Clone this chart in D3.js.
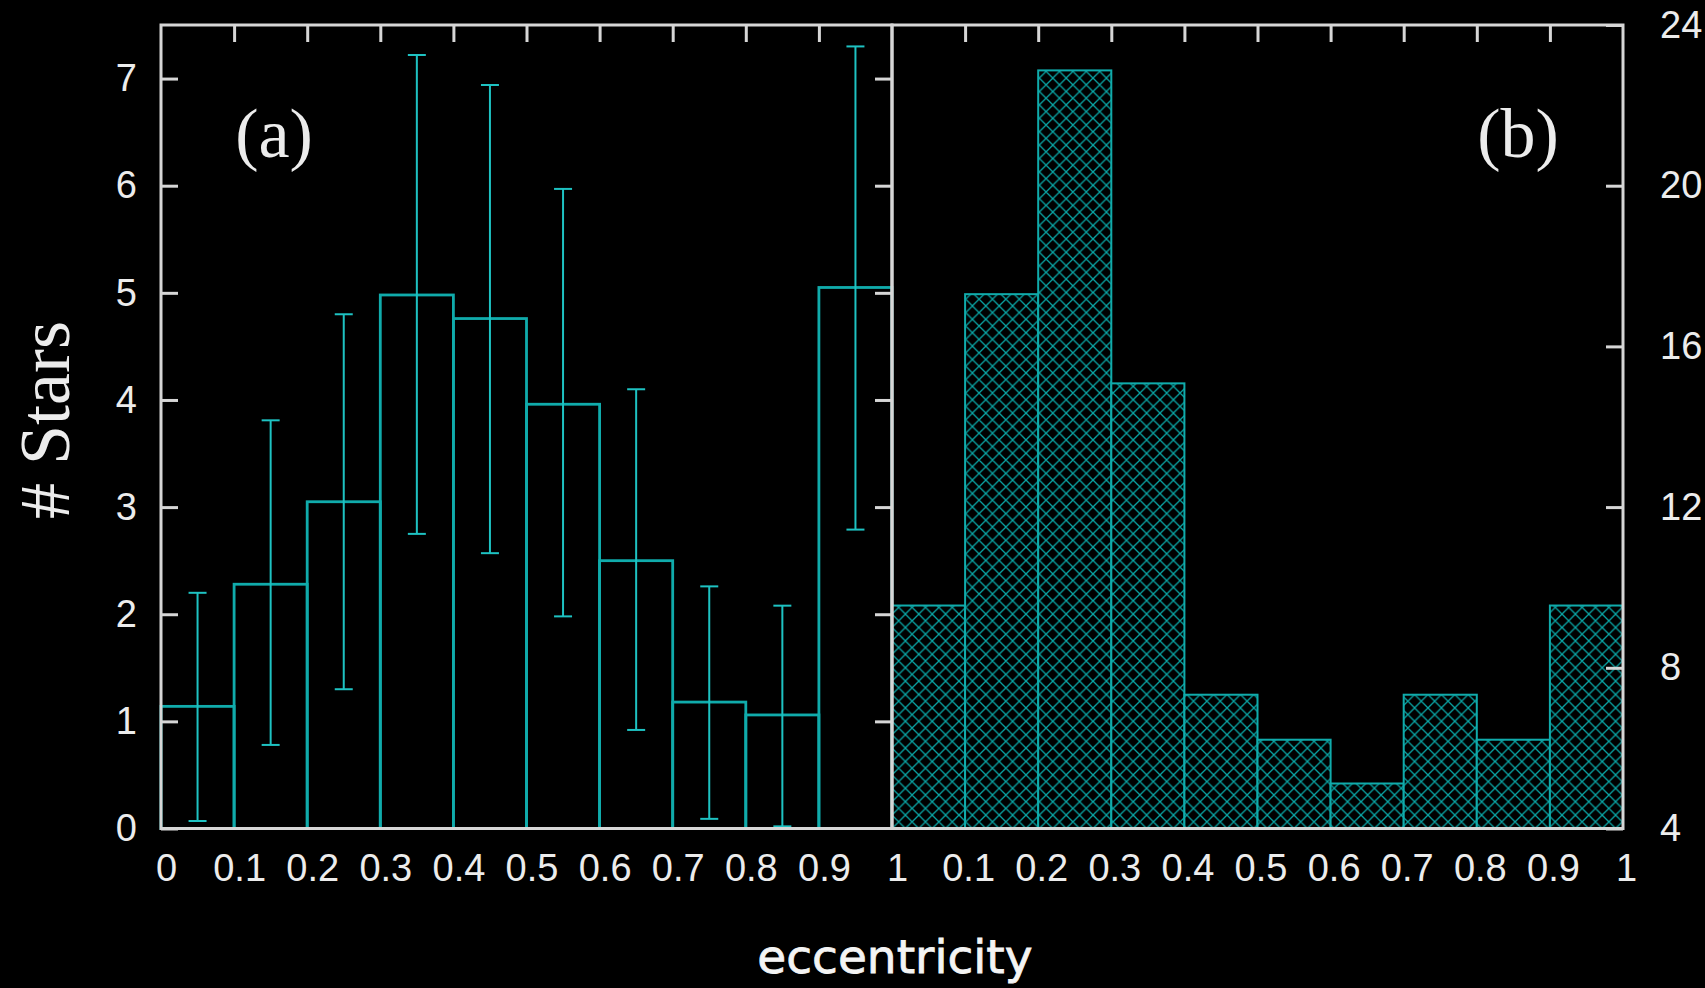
<!DOCTYPE html>
<html>
<head>
<meta charset="utf-8">
<script src="https://cdn.jsdelivr.net/npm/d3@7"></script>
<style>
  html, body { margin: 0; padding: 0; background: #000; }
  svg { display: block; }
</style>
</head>
<body>
<svg id="chart" width="1705" height="988"></svg>
<script>
// Eccentricity bins (left edges, width 0.1)
const binStarts = [0.0, 0.1, 0.2, 0.3, 0.4, 0.5, 0.6, 0.7, 0.8, 0.9];
const binWidth = 0.1;

// Panel (a): counts with lower / upper error limits
const countsA   = [1.14, 2.28, 3.05, 4.98, 4.76, 3.96, 2.50, 1.18, 1.06, 5.05];
const errLowA   = [0.07, 0.78, 1.30, 2.75, 2.57, 1.98, 0.92, 0.09, 0.02, 2.79];
const errHighA  = [2.20, 3.81, 4.80, 7.22, 6.94, 5.97, 4.10, 2.26, 2.08, 7.30];

// Panel (b): counts (right-hand axis)
const countsB   = [9.55, 17.30, 22.87, 15.08, 7.33, 6.21, 5.12, 7.33, 6.21, 9.55];

// Tick values
const xTicksA = [0, 0.1, 0.2, 0.3, 0.4, 0.5, 0.6, 0.7, 0.8, 0.9, 1];
const xTicksB = [0.1, 0.2, 0.3, 0.4, 0.5, 0.6, 0.7, 0.8, 0.9, 1];
const yTicksA = [0, 1, 2, 3, 4, 5, 6, 7];
const yTicksB = [4, 8, 12, 16, 20, 24];

const svg = d3.select("#chart");
svg.append("rect").attr("width", 1705).attr("height", 988).attr("fill", "#000");

const plotTop = 25, plotBottom = 828.5;
const leftA = 161, mid = 892, rightB = 1623;

const xA = d3.scaleLinear().domain([0, 1]).range([leftA, mid]);
const xB = d3.scaleLinear().domain([0, 1]).range([mid, rightB]);
const yA = d3.scaleLinear().domain([0, 7.5]).range([plotBottom, plotTop]);
const yB = d3.scaleLinear().domain([4, 24]).range([plotBottom, plotTop]);

const axisColor = "#d6d6d6";
const labelColor = "#ececec";
const barColor = "#10abab";
const errColor = "#1ec2c2";
const tickFont = "'Liberation Sans', Arial, sans-serif";
const serifFont = "'Liberation Serif', 'Times New Roman', serif";
const fmt = d => (d === 0 ? "0" : d === 1 ? "1" : d3.format(".1f")(d));

// Cross-hatch fill for panel (b)
const defs = svg.append("defs");
const hp = 13.4;
const pat = defs.append("pattern")
  .attr("id", "xhatch")
  .attr("patternUnits", "userSpaceOnUse")
  .attr("x", mid).attr("y", plotBottom)
  .attr("width", hp).attr("height", hp);
pat.append("rect").attr("width", hp).attr("height", hp).attr("fill", "#000");
pat.append("path")
  .attr("d", `M0,0L${hp},${hp}M0,${hp}L${hp},0M${-hp/2},${hp/2}L${hp/2},${hp*1.5}M${hp/2},${-hp/2}L${hp*1.5},${hp/2}M${-hp/2},${hp/2}L${hp/2},${-hp/2}M${hp/2},${hp*1.5}L${hp*1.5},${hp/2}`)
  .attr("stroke", "#0aa6a6")
  .attr("stroke-width", 1.3)
  .attr("fill", "none");

// ---- Panel (a): outlined histogram with error bars ----
const gA = svg.append("g");
gA.selectAll("rect.barA")
  .data(binStarts)
  .join("rect")
  .attr("class", "barA")
  .attr("x", d => xA(d))
  .attr("y", (d, i) => yA(countsA[i]))
  .attr("width", d => xA(d + binWidth) - xA(d))
  .attr("height", (d, i) => yA(0) - yA(countsA[i]))
  .attr("fill", "none")
  .attr("stroke", barColor)
  .attr("stroke-width", 2.8);

const capHalf = 9;
const err = gA.selectAll("g.err")
  .data(binStarts)
  .join("g")
  .attr("class", "err")
  .attr("stroke", errColor)
  .attr("stroke-width", 2);
err.append("line")
  .attr("x1", d => xA(d + binWidth / 2)).attr("x2", d => xA(d + binWidth / 2))
  .attr("y1", (d, i) => yA(errLowA[i])).attr("y2", (d, i) => yA(errHighA[i]));
err.append("line")
  .attr("x1", d => xA(d + binWidth / 2) - capHalf).attr("x2", d => xA(d + binWidth / 2) + capHalf)
  .attr("y1", (d, i) => yA(errLowA[i])).attr("y2", (d, i) => yA(errLowA[i]));
err.append("line")
  .attr("x1", d => xA(d + binWidth / 2) - capHalf).attr("x2", d => xA(d + binWidth / 2) + capHalf)
  .attr("y1", (d, i) => yA(errHighA[i])).attr("y2", (d, i) => yA(errHighA[i]));

// ---- Panel (b): hatched histogram ----
const gB = svg.append("g");
gB.selectAll("rect.barB")
  .data(binStarts)
  .join("rect")
  .attr("class", "barB")
  .attr("x", d => xB(d))
  .attr("y", (d, i) => yB(countsB[i]))
  .attr("width", d => xB(d + binWidth) - xB(d))
  .attr("height", (d, i) => yB(4) - yB(countsB[i]))
  .attr("fill", "url(#xhatch)")
  .attr("stroke", barColor)
  .attr("stroke-width", 2);

// ---- Axes ----
function styleAxis(g, size, dx) {
  g.select(".domain").remove();
  g.selectAll(".tick line").attr("stroke", axisColor).attr("stroke-width", 3);
  g.selectAll(".tick text")
    .attr("fill", labelColor)
    .attr("font-family", tickFont)
    .attr("font-size", size)
    .attr("dx", dx || 0);
}

// left y axis, panel (a)
svg.append("g").attr("transform", `translate(${leftA},0)`)
  .call(d3.axisLeft(yA).tickValues(yTicksA).tickSizeInner(-17).tickSizeOuter(0).tickPadding(24).tickFormat(d3.format("d")))
  .call(g => styleAxis(g, 38));

// mirrored y ticks on right side of panel (a)
svg.append("g").attr("transform", `translate(${mid},0)`)
  .call(d3.axisRight(yA).tickValues(yTicksA.filter(d => d > 0)).tickSizeInner(-17).tickSizeOuter(0).tickFormat(""))
  .call(g => styleAxis(g, 38));

// top ticks, both panels
svg.append("g").attr("transform", `translate(0,${plotTop})`)
  .call(d3.axisTop(xA).tickValues(xTicksA.slice(1, -1)).tickSizeInner(-17).tickSizeOuter(0).tickFormat(""))
  .call(g => styleAxis(g, 38));
svg.append("g").attr("transform", `translate(0,${plotTop})`)
  .call(d3.axisTop(xB).tickValues(xTicksB.slice(0, -1)).tickSizeInner(-17).tickSizeOuter(0).tickFormat(""))
  .call(g => styleAxis(g, 38));

// bottom labels
svg.append("g").attr("transform", `translate(0,${plotBottom})`)
  .call(d3.axisBottom(xA).tickValues(xTicksA).tickSizeInner(0).tickSizeOuter(0).tickPadding(26).tickFormat(fmt))
  .call(g => styleAxis(g, 38, 5));
svg.append("g").attr("transform", `translate(0,${plotBottom})`)
  .call(d3.axisBottom(xB).tickValues(xTicksB).tickSizeInner(0).tickSizeOuter(0).tickPadding(26).tickFormat(fmt))
  .call(g => styleAxis(g, 38, 3));

// right y axis, panel (b)
svg.append("g").attr("transform", `translate(${rightB},0)`)
  .call(d3.axisRight(yB).tickValues(yTicksB).tickSizeInner(-17).tickSizeOuter(0).tickPadding(37).tickFormat(d3.format("d")))
  .call(g => styleAxis(g, 38));

// frames
const frame = svg.append("g").attr("fill", "none").attr("stroke", axisColor).attr("stroke-width", 3);
frame.append("rect").attr("x", leftA).attr("y", plotTop).attr("width", mid - leftA).attr("height", plotBottom - plotTop);
frame.append("rect").attr("x", mid).attr("y", plotTop).attr("width", rightB - mid).attr("height", plotBottom - plotTop);

// ---- Text ----
svg.append("text")
  .attr("x", 274).attr("y", 157)
  .attr("text-anchor", "middle")
  .attr("font-family", serifFont).attr("font-size", 70)
  .attr("fill", labelColor)
  .text("(a)");
svg.append("text")
  .attr("x", 1518).attr("y", 157)
  .attr("text-anchor", "middle")
  .attr("font-family", serifFont).attr("font-size", 70)
  .attr("fill", labelColor)
  .text("(b)");
svg.append("text")
  .attr("transform", "translate(69,420) rotate(-90)")
  .attr("text-anchor", "middle")
  .attr("font-family", serifFont).attr("font-size", 72)
  .attr("fill", labelColor)
  .text("# Stars");
svg.append("text")
  .attr("x", 895).attr("y", 973)
  .attr("text-anchor", "middle")
  .attr("font-family", "'DejaVu Sans', sans-serif").attr("font-size", 47)
  .attr("fill", "#f4f4f4")
  .attr("stroke", "#f4f4f4").attr("stroke-width", 0.8)
  .text("eccentricity");
</script>
</body>
</html>
